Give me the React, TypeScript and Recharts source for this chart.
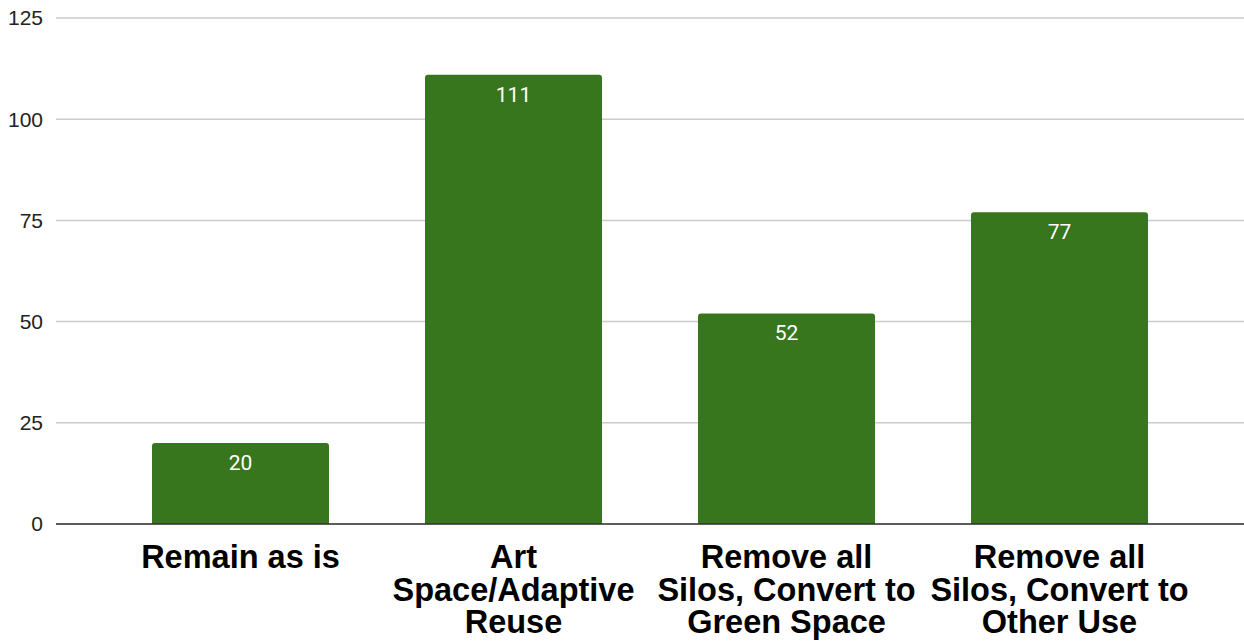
import { BarChart, Bar, XAxis, YAxis, CartesianGrid, LabelList } from "recharts";

// survey options and vote counts
const categories = [
  "Remain as is",
  "Art Space/Adaptive Reuse",
  "Remove all Silos, Convert to Green Space",
  "Remove all Silos, Convert to Other Use",
];
const votes = [20, 111, 52, 77];

// how each category label wraps under the axis
const tickLines = [
  ["Remain as is"],
  ["Art", "Space/Adaptive", "Reuse"],
  ["Remove all", "Silos, Convert to", "Green Space"],
  ["Remove all", "Silos, Convert to", "Other Use"],
];

const yTicks = [0, 25, 50, 75, 100, 125];

const data = categories.map((name, i) => ({ name, value: votes[i] }));

const BAR_COLOR = "#38761d";

function CategoryTick({ x, y, payload }: any) {
  const idx = categories.indexOf(payload.value);
  const lines = tickLines[idx] ?? [payload.value];
  return (
    <text
      x={x}
      y={y}
      textAnchor="middle"
      fill="#000"
      fontFamily="'Liberation Sans', Arial, sans-serif"
      fontWeight="bold"
      fontSize={32.5}
    >
      {lines.map((line, i) => (
        <tspan key={i} x={x} y={y + 44 + i * 32.5}>
          {line}
        </tspan>
      ))}
    </text>
  );
}

export default function App() {
  return (
    <div style={{ position: "absolute", left: 0, top: 0, background: "#fff" }}>
      <BarChart
        width={1244}
        height={641}
        data={data}
        margin={{ top: 18, right: 0, bottom: 0, left: 0 }}
      >
        <CartesianGrid vertical={false} stroke="#cccccc" strokeWidth={1.5} />
        <XAxis
          dataKey="name"
          height={117}
          padding={{ left: 48, right: 48 }}
          axisLine={{ stroke: "#333333", strokeWidth: 1.5 }}
          tickLine={false}
          tickSize={0}
          tickMargin={0}
          interval={0}
          tick={<CategoryTick />}
        />
        <YAxis
          width={56}
          domain={[0, 125]}
          ticks={yTicks}
          axisLine={false}
          tickLine={false}
          tickSize={0}
          tickMargin={13}
          tick={{
            fill: "#222222",
            fontSize: 21,
            fontFamily: "'Liberation Sans', Arial, sans-serif",
          }}
        />
        <Bar
          dataKey="value"
          fill={BAR_COLOR}
          barSize={177}
          radius={[3, 3, 0, 0]}
          isAnimationActive={false}
        >
          <LabelList
            dataKey="value"
            position="insideTop"
            offset={12}
            fill="#ffffff"
            fontSize={21}
            fontFamily="Roboto, sans-serif"
          />
        </Bar>
      </BarChart>
    </div>
  );
}
